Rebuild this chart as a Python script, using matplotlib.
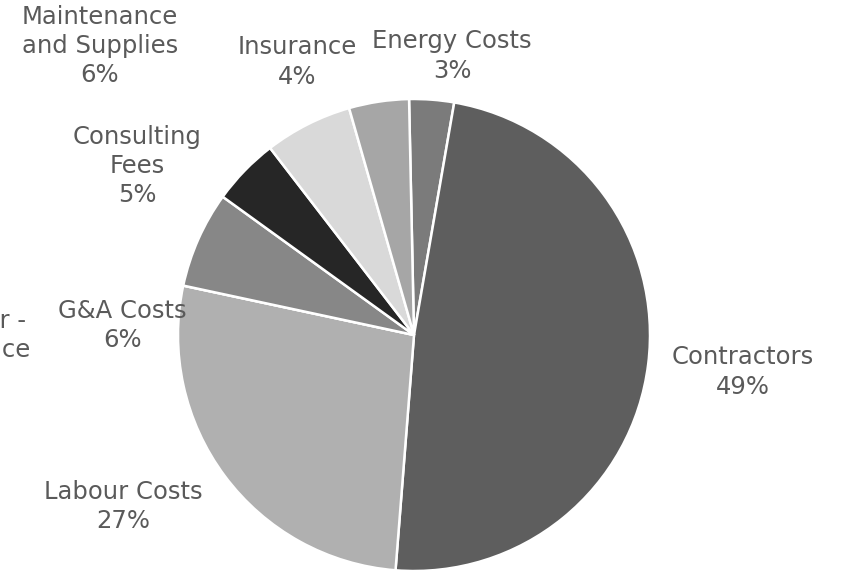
import matplotlib.pyplot as plt

categories = ["Energy Costs", "Contractors", "Labour Costs", "Contractor -\nMaintenance",
              "G&A Costs", "Consulting\nFees", "Maintenance\nand Supplies", "Insurance"]
shares = [3.06, 48.5, 27.1, 0.0, 6.6, 4.6, 6.0, 4.1]
pct_labels = ["3%", "49%", "27%", "0%", "6%", "5%", "6%", "4%"]
colors = ["#7b7b7b", "#5e5e5e", "#b0b0b0", "#d0d0d0", "#878787", "#262626", "#d9d9d9", "#a6a6a6"]

# label centres in axes data units (pie radius = 1)
label_pos = [(0.161, 1.182), (1.394, -0.157), (-1.233, -0.725), (-1.953, -0.064),
             (-1.237, 0.042), (-1.174, 0.716), (-1.331, 1.225), (-0.496, 1.157)]

plt.rcParams['font.family'] = ['DejaVu Sans']

fig = plt.figure(figsize=(8.43, 5.74), dpi=100)
ax = fig.add_axes([178 / 843, 3 / 574, 472 / 843, 472 / 574])

ax.pie(shares, colors=colors, startangle=91.2, counterclock=False, radius=1,
       wedgeprops=dict(edgecolor="white", linewidth=1.8))
ax.set_xlim(-1, 1)
ax.set_ylim(-1, 1)
ax.set_aspect("auto")
ax.axis("off")

for name, pct, (x, y) in zip(categories, pct_labels, label_pos):
    ax.text(x, y, name + "\n" + pct, ha="center", va="center", fontsize=17.5,
            color="#5a5a5a", linespacing=1.27, clip_on=False)

fig.savefig("out.png", dpi=100)
